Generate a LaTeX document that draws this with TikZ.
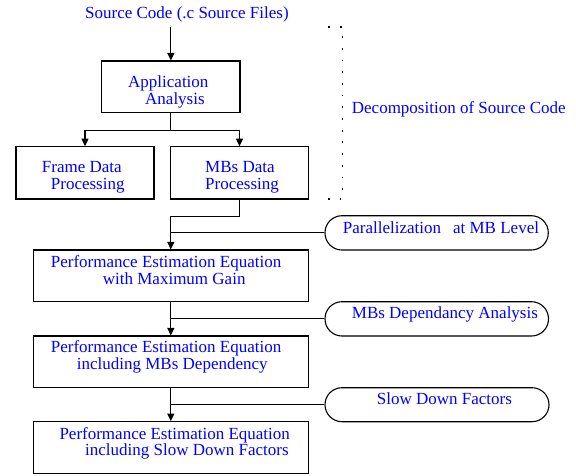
\documentclass[tikz,border=0pt]{standalone}
\usepackage{fontspec}
\setmainfont{Liberation Serif}
\usetikzlibrary{arrows.meta}
\tikzset{
  box/.style={draw=black, line width=1.1pt, rectangle, inner sep=0pt},
  pill/.style={draw=black, line width=1.1pt, rectangle, rounded corners=17pt, inner sep=0pt},
  txt/.style={text=blue, inner sep=0pt, anchor=base west},
  conn/.style={draw=black, line width=1.1pt},
  arr/.style={conn, -{Triangle[width=7pt,length=7.5pt]}},
  brace/.style={draw=black, line width=1.4pt, dash pattern=on 1.8pt off 9.9pt}
}
\begin{document}
\begin{tikzpicture}[x=1pt,y=-1pt,font=\rmfamily\fontsize{17}{17}\selectfont]
\useasboundingbox (0,0) rectangle (576,475);
% boxes
\node[box, minimum width=138.3pt, minimum height=51.7pt] (app) at (170.85,86.85) {};
\node[box, minimum width=138pt, minimum height=52.3pt] (frame) at (85,172.85) {};
\node[box, minimum width=137.6pt, minimum height=52.3pt] (mbs) at (239.5,172.85) {};
\node[box, minimum width=275pt, minimum height=51.7pt] (b2) at (170.8,275.85) {};
\node[box, minimum width=275pt, minimum height=51.7pt] (b3) at (170.8,361.85) {};
\node[box, minimum width=275pt, minimum height=51.6pt] (b4) at (170.8,447.5) {};
% pills
\node[pill, minimum width=223.3pt, minimum height=34.3pt] (p1) at (436.65,232.85) {};
\node[pill, minimum width=223.5pt, minimum height=34.3pt] (p2) at (436.75,318.85) {};
\node[pill, minimum width=224pt, minimum height=34pt] (p3) at (437,404.7) {};
% texts
\node[txt] (src) at (85,18.3) {Source Code (.c Source Files)};
\node[txt] (dec) at (351.7,113.2) {Decomposition of Source Code};
\node[txt] (appa) at (128,87.3) {Application};
\node[txt] (appb) at (145,104.4) {Analysis};
\node[txt] (fra) at (41.7,172.8) {Frame Data};
\node[txt] (frb) at (50.7,189.8) {Processing};
\node[txt] (mba) at (205,172.8) {MBs Data};
\node[txt] (mbb) at (205,189.8) {Processing};
\node[txt] (b2a) at (50.7,267.2) {Performance Estimation Equation};
\node[txt] (b2b) at (102.7,284.6) {with Maximum Gain};
\node[txt] (b3a) at (50.7,352.8) {Performance Estimation Equation};
\node[txt] (b3b) at (76.7,369.8) {including MBs Dependency};
\node[txt] (b4a) at (59.3,439.5) {Performance Estimation Equation};
\node[txt] (b4b) at (85,455.5) {including Slow Down Factors};
\node[txt] (p1t) at (342.7,233.2) {Parallelization\hspace{12pt}at MB Level};
\node[txt] (p2t) at (351.7,318.8) {MBs Dependancy Analysis};
\node[txt] (p3t) at (376.7,404.8) {Slow Down Factors};
% bracket
\coordinate (brTL) at (328,27);
\coordinate (brTR) at (342.3,27);
\coordinate (brBR) at (342.3,199);
\coordinate (brBL) at (326,199);
\draw[brace] (brTL) -- (brTR) -- (brBR) -- (brBL);
% connectors
\draw[arr] ([yshift=-5pt]src.south -| app.north) -- (app.north);
\draw[arr] (app.south) -- ++(0,17.3) -| (frame.north);
\draw[arr] (app.south) -- ++(0,17.3) -| (mbs.north);
\draw[arr] (mbs.south) -- ++(0,16.7) -| (b2.north);
\draw[conn] (p1.west) -- (p1.west -| b2.north);
\draw[arr] (b2.south) -- (b3.north);
\draw[conn] (p2.west) -- (p2.west -| b2.south);
\draw[arr] (b3.south) -- (b4.north);
\draw[conn] (p3.west) -- (p3.west -| b3.south);
\end{tikzpicture}
\end{document}
